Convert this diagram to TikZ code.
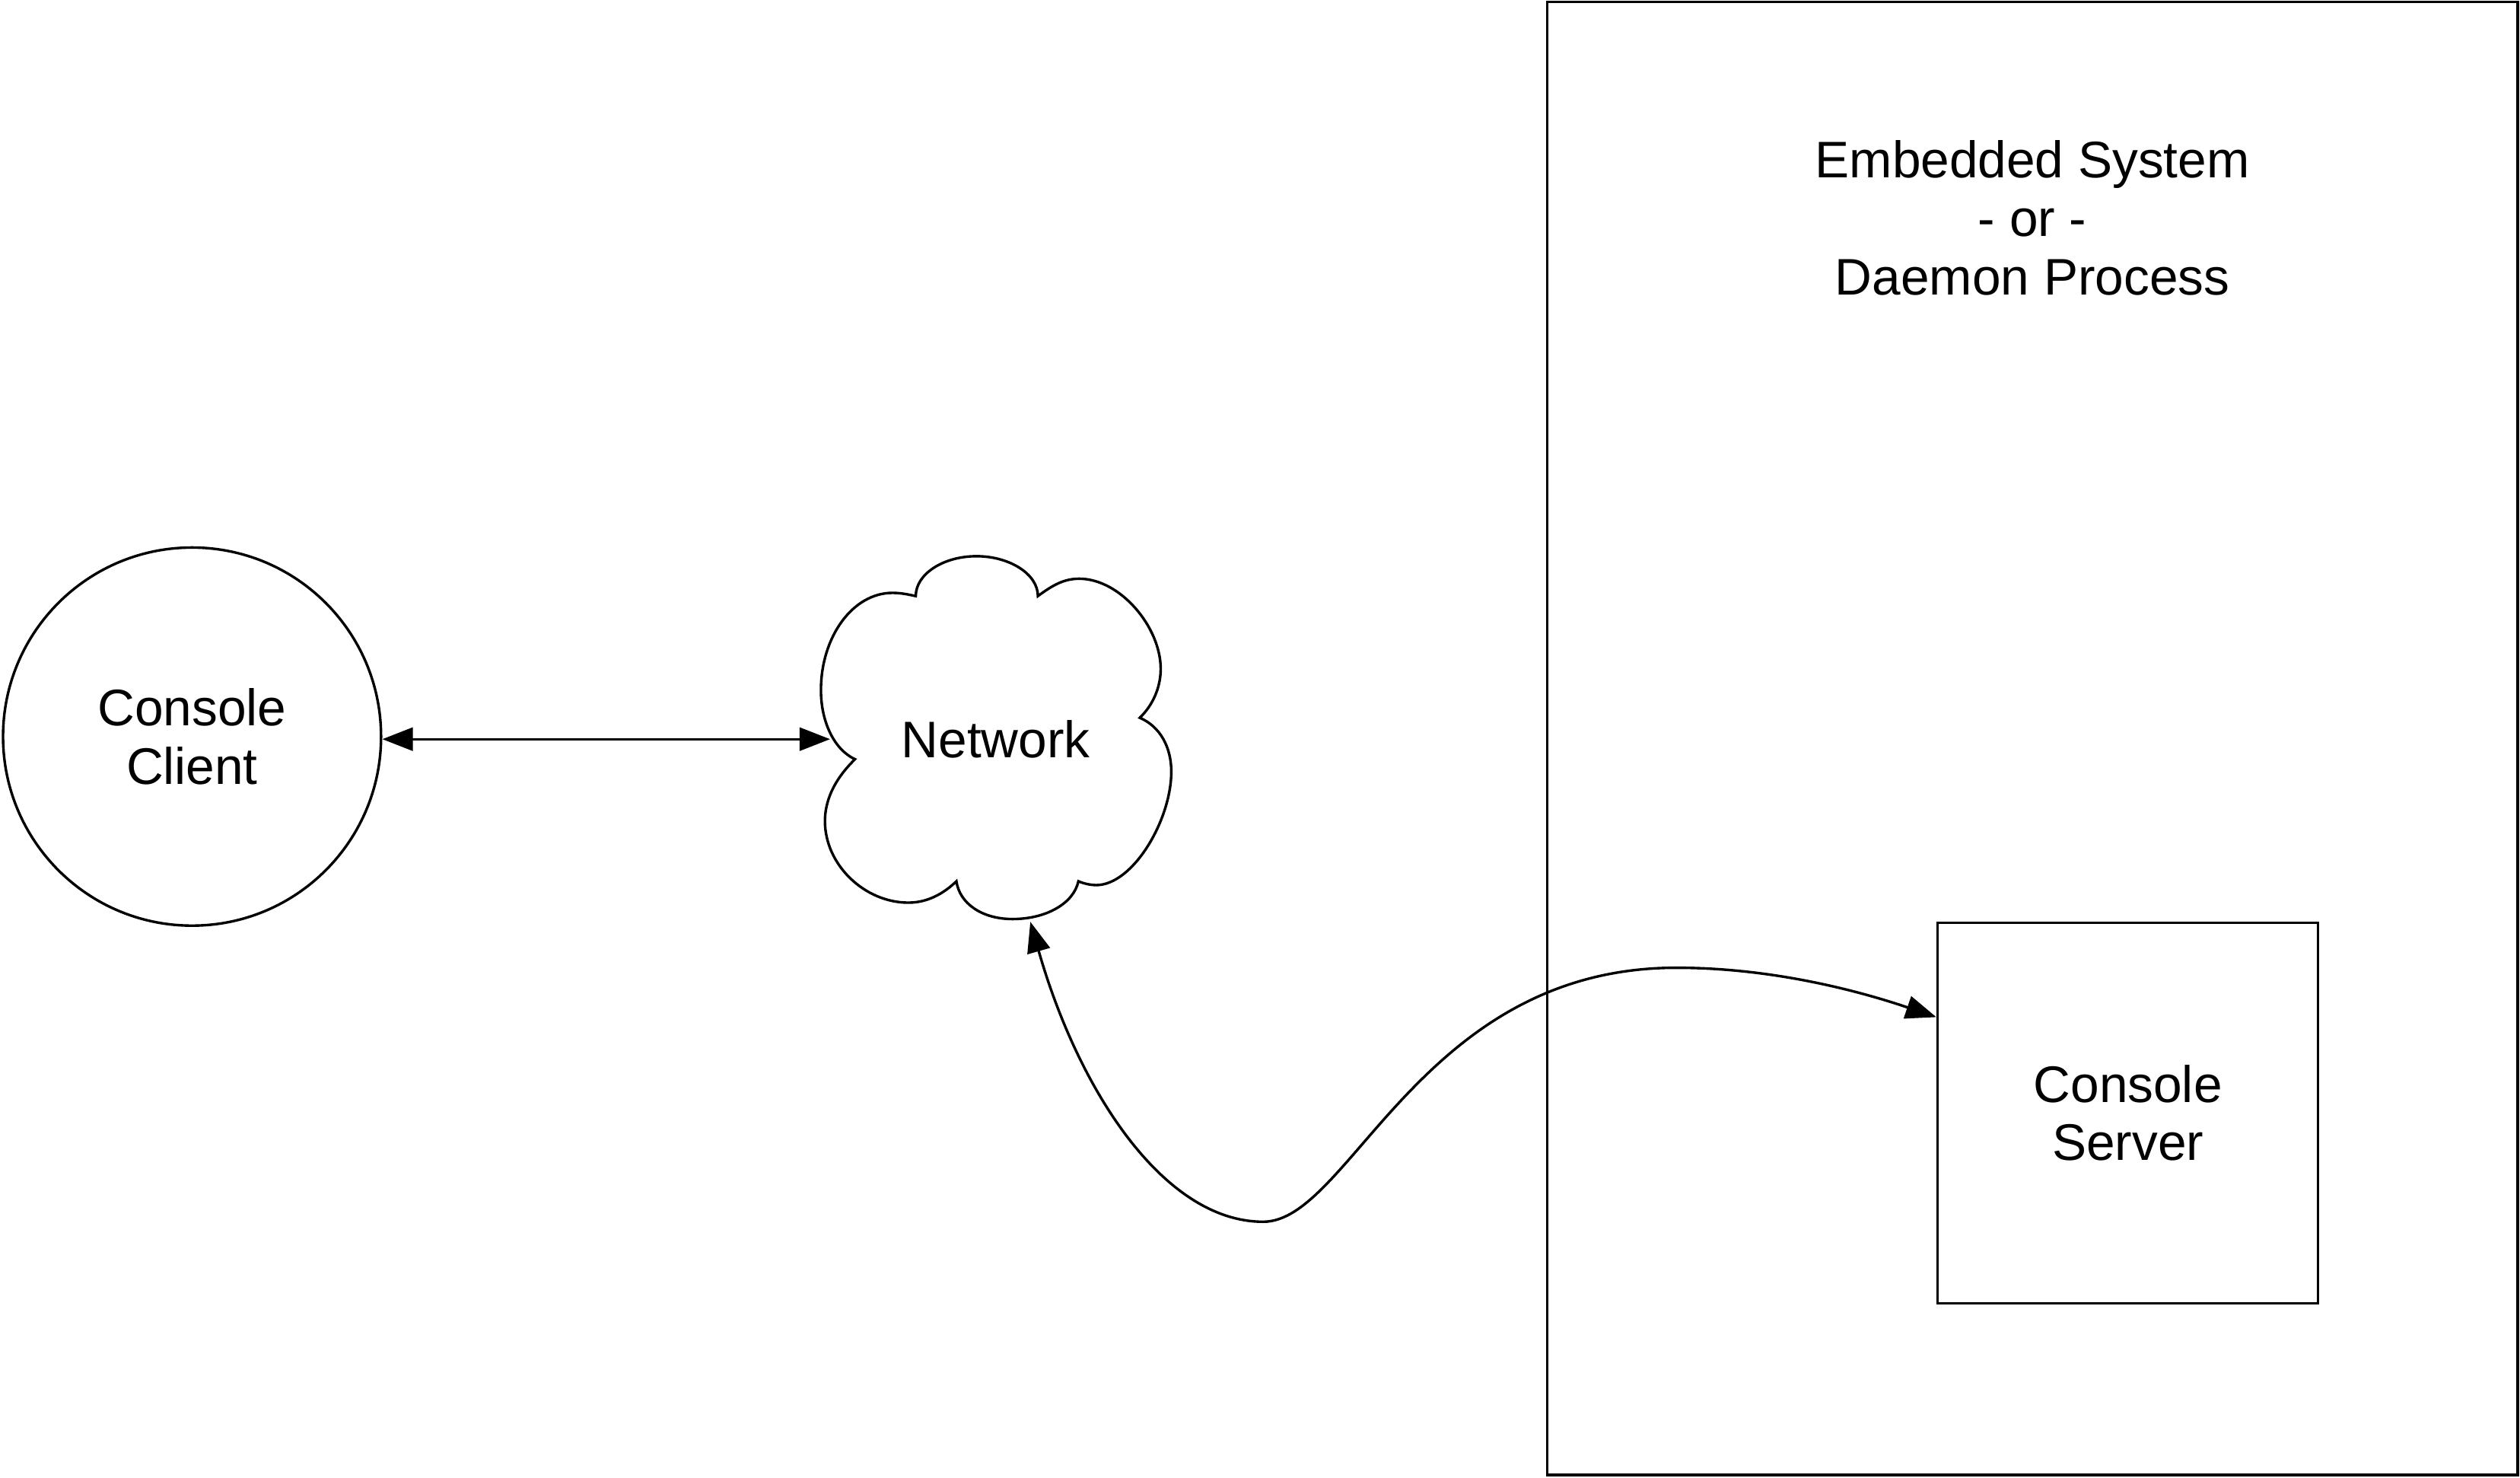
\documentclass[tikz,border=0pt]{standalone}
\usepackage{fontspec}
\setmainfont{Liberation Sans}
\usepackage{tikz}
\usetikzlibrary{positioning,calc,arrows.meta}

\begin{document}
\begin{tikzpicture}[x=0.5pt,y=-0.5pt,line width=0.8pt,
    font=\fontsize{16}{18.2}\selectfont,
    arr/.style={{Triangle[length=9.5pt,width=7.2pt]}-{Triangle[length=9.5pt,width=7.2pt]}},
    box/.style={draw,rectangle,inner sep=0pt},
    txt/.style={align=center,inner sep=0pt}]
    \useasboundingbox (0,0) rectangle (1568,919);

    % Embedded system / daemon
    \node[box,minimum width=302pt,minimum height=458.1pt] (host) at (1264.6,459.4) {};
    \node[txt] (hostlbl) at ($(host.north)+(0,135)$) {Embedded System\\- or -\\Daemon Process};
    \node[box,minimum size=118.4pt,txt] (server) at (1324,692.3) {Console\\Server};

    % Client
    \node[draw,circle,minimum size=117.6pt,txt] (client) at (119.5,458.2) {Console\\Client};

    % Network cloud
    \draw (532,472.3) .. controls (518,465.7) and (510.8,447.4) .. (510.8,429.4)
        .. controls (510.8,396) and (530.7,368.8) .. (555.3,368.8)
        .. controls (561,368.8) and (566,370) .. (569.8,370.8)
        .. controls (569.8,357) and (587,346) .. (607.6,346)
        .. controls (628,346) and (645.8,357) .. (645.8,370.8)
        .. controls (655,364) and (662,360) .. (671.5,360)
        .. controls (697,360) and (722.2,390) .. (722.2,416.1)
        .. controls (722.2,428) and (717,439) .. (709.2,446.5)
        .. controls (722,452) and (728.8,465) .. (728.8,480)
        .. controls (728.8,510) and (705,550.6) .. (682,550.6)
        .. controls (678,550.5) and (674,549.5) .. (671,548.2)
        .. controls (668,562) and (651,571.7) .. (630,571.7)
        .. controls (611,571.7) and (597,562) .. (595.1,548.2)
        .. controls (587,556) and (577,561.5) .. (565.2,561.5)
        .. controls (538,561.5) and (513.3,538) .. (513.3,510.8)
        .. controls (513.3,495) and (522,482) .. (532,472.3) -- cycle;
    \node[txt] (network) at (619.6,459.8) {Network};
    \coordinate (netW) at (516.5,459.8);
    \coordinate (netS) at (641.1,573.4);

    % Links
    \coordinate (srvW) at ($(server.north west)!0.25!(server.south west)$);
    \draw[arr] (client.east |- netW) -- (netW);
    \draw[arr] (netS) .. controls (671,678) and (724,760) .. (786,760)
        .. controls (840,760) and (884,602) .. (1043,602)
        .. controls (1103,602) and (1156.8,616.5) .. (srvW);
\end{tikzpicture}
\end{document}
